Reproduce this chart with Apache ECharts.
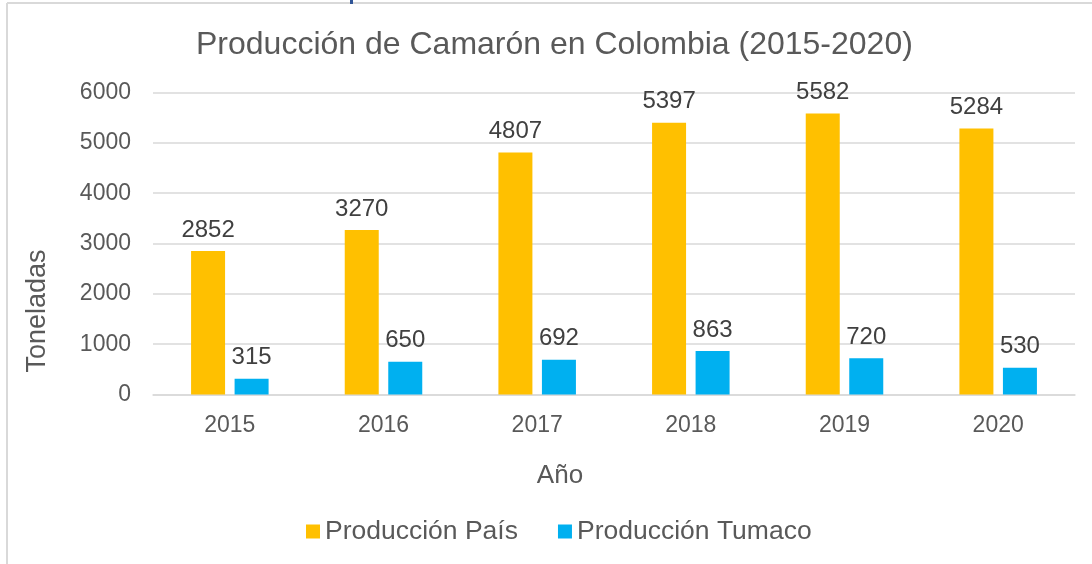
<!DOCTYPE html>
<html>
<head>
<meta charset="utf-8">
<script src="https://cdn.jsdelivr.net/npm/echarts@6/dist/echarts.min.js"></script>
<style>
html,body{margin:0;padding:0;background:#fff;}
#chart{width:1092px;height:564px;}
</style>
</head>
<body>
<div id="chart"></div>
<script>
const years = ['2015','2016','2017','2018','2019','2020'];
const produccionPais = [2852, 3270, 4807, 5397, 5582, 5284];
const produccionTumaco = [315, 650, 692, 863, 720, 530];
const seriesNames = ['Producción País', 'Producción Tumaco'];
const titleText = 'Producción de Camarón en Colombia (2015-2020)';
const yAxisName = 'Toneladas';
const xAxisName = 'Año';

const FONT = '"Liberation Sans", Arial, sans-serif';
const chart = echarts.init(document.getElementById('chart'), null, {renderer: 'canvas'});

const labelStyle = {
  show: true, position: 'top', distance: 9,
  color: '#404040', fontSize: 24, fontFamily: FONT
};

chart.setOption({
  animation: false,
  backgroundColor: '#ffffff',
  textStyle: {fontFamily: FONT},
  title: {
    text: titleText,
    left: 196, top: 29, padding: 0,
    textStyle: {color: '#595959', fontSize: 32, fontWeight: 'normal', fontFamily: FONT}
  },
  legend: {
    data: seriesNames,
    left: 306, top: 518, padding: 0,
    itemWidth: 14, itemHeight: 14, itemGap: 40,
    icon: 'rect',
    textStyle: {color: '#595959', fontSize: 26.5, fontFamily: FONT}
  },
  grid: {left: 153, right: 17, top: 92.5, bottom: 169.5, containLabel: false},
  xAxis: {
    type: 'category',
    data: years,
    axisLine: {show: true, lineStyle: {color: '#d9d9d9', width: 1.5}},
    axisTick: {show: false},
    axisLabel: {color: '#595959', fontSize: 23, margin: 20, fontFamily: FONT}
  },
  yAxis: {
    type: 'value',
    min: 0, max: 6000, interval: 1000,
    axisLine: {show: false},
    axisTick: {show: false},
    axisLabel: {color: '#595959', fontSize: 23, margin: 22, fontFamily: FONT, formatter: function (v) { return String(v); }},
    splitLine: {lineStyle: {color: '#d9d9d9', width: 1.5}}
  },
  series: [
    {
      name: seriesNames[0], type: 'bar', data: produccionPais,
      barWidth: 34, barGap: '28%',
      itemStyle: {color: '#FFC000'},
      label: labelStyle
    },
    {
      name: seriesNames[1], type: 'bar', data: produccionTumaco,
      barWidth: 34, barGap: '28%',
      itemStyle: {color: '#00B0F0'},
      label: labelStyle
    }
  ],
  graphic: [
    {type: 'line', shape: {x1: 7, y1: 3, x2: 1092, y2: 3}, style: {stroke: '#d9d9d9', lineWidth: 2}, silent: true},
    {type: 'line', shape: {x1: 7, y1: 3, x2: 7, y2: 564}, style: {stroke: '#d9d9d9', lineWidth: 2}, silent: true},
    {type: 'rect', shape: {x: 350, y: 0, width: 3, height: 4}, style: {fill: '#2f5597'}, silent: true},
    {
      type: 'text', x: 38, y: 311, rotation: Math.PI / 2,
      style: {text: yAxisName, fill: '#595959', fontSize: 27, fontFamily: FONT, align: 'center', verticalAlign: 'middle'},
      silent: true
    },
    {
      type: 'text', x: 560, y: 476,
      style: {text: xAxisName, fill: '#595959', fontSize: 26, fontFamily: FONT, align: 'center', verticalAlign: 'middle'},
      silent: true
    }
  ]
});
</script>
</body>
</html>
